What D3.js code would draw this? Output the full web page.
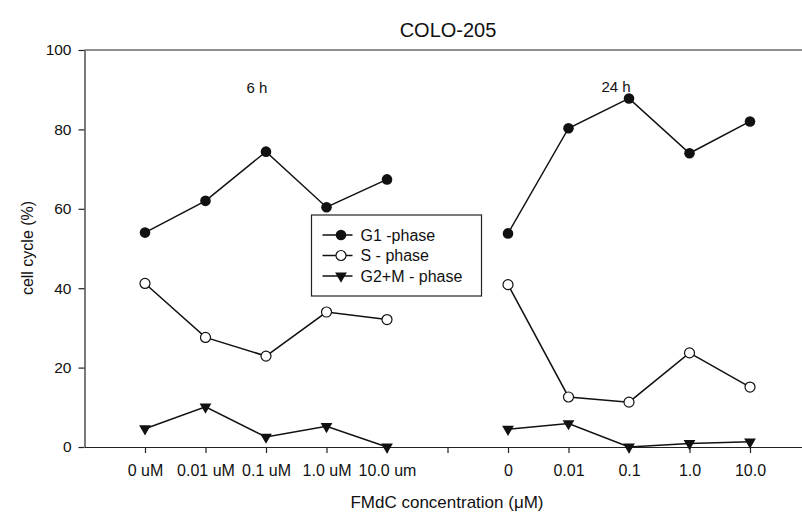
<html>
<head>
  <title>COLO-205</title>
  <style>
    body { margin: 0; background: #fff; }
    svg text { font-family: 'Liberation Sans', Arial, sans-serif; fill: #111; }
  </style>
</head>
<body>
<script src='https://cdn.jsdelivr.net/npm/d3@7/dist/d3.min.js'></script>
<script>
// x labels for the two time groups
var dose6h = ['0 uM', '0.01 uM', '0.1 uM', '1.0 uM', '10.0 um']
var dose24h = ['0', '0.01', '0.1', '1.0', '10.0']
var yTicks = [0, 20, 40, 60, 80, 100]

// values (%)
var g1_6h = [54, 62, 74.4, 60.4, 67.4]
var g1_24h = [53.8, 80.3, 87.8, 74, 82]
var s_6h = [41.2, 27.6, 22.9, 34, 32.1]
var s_24h = [40.9, 12.6, 11.3, 23.7, 15.1]
var g2m_6h = [4.6, 10.1, 2.5, 5.2, 0]
var g2m_24h = [4.5, 5.9, 0, 0.9, 1.3]

var seriesNames = ['G1 -phase', 'S - phase', 'G2+M - phase']

var width = 802
var height = 515
var padLeft = 84.5, padTop = 50, axisY = 447

var svg = d3.select('body').append('svg')
  .attr('width', width)
  .attr('height', height)

// slot 1..5 = 6 h, 7..11 = 24 h, slot 6 is the gap
var xScale = d3.scaleLinear().domain([0, 12]).range([padLeft, 810.5])
var yScale = d3.scaleLinear().domain([0, 100]).range([axisY, padTop])

var slots6 = d3.range(1, 6)
var slots24 = d3.range(7, 12)
var allSlots = d3.range(1, 12)
var labelFor = function(s) {
  if (s < 6) return dose6h[s - 1]
  if (s > 6) return dose24h[s - 7]
  return ''
}

// top frame line
svg.append('line')
  .attr('x1', padLeft).attr('x2', width)
  .attr('y1', yScale(100)).attr('y2', yScale(100))
  .attr('stroke', '#222').attr('stroke-width', 1.2)

var xAxis = d3.axisBottom(xScale)
  .tickValues(allSlots)
  .tickFormat(labelFor)
  .tickSizeInner(6)
  .tickSizeOuter(0)
  .tickPadding(12)
var gx = svg.append('g')
  .attr('transform', `translate(0, ${axisY})`)
  .call(xAxis)
gx.selectAll('text').style('font-size', '16px')

var yAxis = d3.axisLeft(yScale)
  .tickValues(yTicks)
  .tickSizeInner(6)
  .tickSizeOuter(0)
  .tickPadding(7)
var gy = svg.append('g')
  .attr('transform', `translate(${padLeft}, 0)`)
  .call(yAxis)
gy.selectAll('text').style('font-size', '15.5px')

svg.selectAll('.domain, .tick line').attr('stroke', '#222').attr('stroke-width', 1.2)

// titles
svg.append('text').attr('x', 448).attr('y', 37).attr('text-anchor', 'middle')
  .style('font-size', '20px').text('COLO-205')
svg.append('text').attr('x', 447).attr('y', 508).attr('text-anchor', 'middle')
  .style('font-size', '17px').text('FMdC concentration (\u03BCM)')
svg.append('text')
  .attr('transform', 'translate(33, 248) rotate(-90)')
  .attr('text-anchor', 'middle')
  .style('font-size', '16px').text('cell cycle (%)')
svg.append('text').attr('x', 257).attr('y', 93).attr('text-anchor', 'middle')
  .style('font-size', '15px').text('6 h')
svg.append('text').attr('x', 616).attr('y', 92).attr('text-anchor', 'middle')
  .style('font-size', '15px').text('24 h')

var line = d3.line()
  .x(function(d) { return xScale(d.s) })
  .y(function(d) { return yScale(d.v) })

var tri = d3.symbol().type(d3.symbolTriangle).size(60)

function drawMarker(g, type) {
  if (type === 0) {
    g.append('circle').attr('r', 5.3).attr('fill', '#111')
  } else if (type === 1) {
    g.append('circle').attr('r', 5).attr('fill', '#fff').attr('stroke', '#111').attr('stroke-width', 1.2)
  } else {
    g.append('path').attr('d', tri).attr('transform', 'rotate(180)').attr('fill', '#111')
  }
}

var groups = [
  [g1_6h, g1_24h],
  [s_6h, s_24h],
  [g2m_6h, g2m_24h]
]

groups.forEach(function(pair, k) {
  [[slots6, pair[0]], [slots24, pair[1]]].forEach(function(sp) {
    var pts = sp[0].map(function(s, i) { return { s: s, v: sp[1][i] } })
    svg.append('path')
      .datum(pts)
      .attr('d', line)
      .attr('fill', 'none')
      .attr('stroke', '#111')
      .attr('stroke-width', 1.5)
    svg.selectAll(null)
      .data(pts)
      .enter()
      .append('g')
      .attr('transform', function(d) { return `translate(${xScale(d.s)}, ${yScale(d.v)})` })
      .each(function() { drawMarker(d3.select(this), k) })
  })
})

// legend
var legend = svg.append('g').attr('transform', 'translate(311.5, 215)')
legend.append('rect')
  .attr('width', 170).attr('height', 81)
  .attr('fill', '#fff').attr('stroke', '#222').attr('stroke-width', 1.2)
seriesNames.forEach(function(name, k) {
  var y = 20 + k * 20.5
  legend.append('line').attr('x1', 11).attr('x2', 41).attr('y1', y).attr('y2', y)
    .attr('stroke', '#111').attr('stroke-width', 1.5)
  drawMarker(legend.append('g').attr('transform', `translate(29.5, ${y})`), k)
  legend.append('text').attr('x', 49).attr('y', y + 5.5)
    .style('font-size', '16px').text(name)
})
</script>
</body>
</html>
